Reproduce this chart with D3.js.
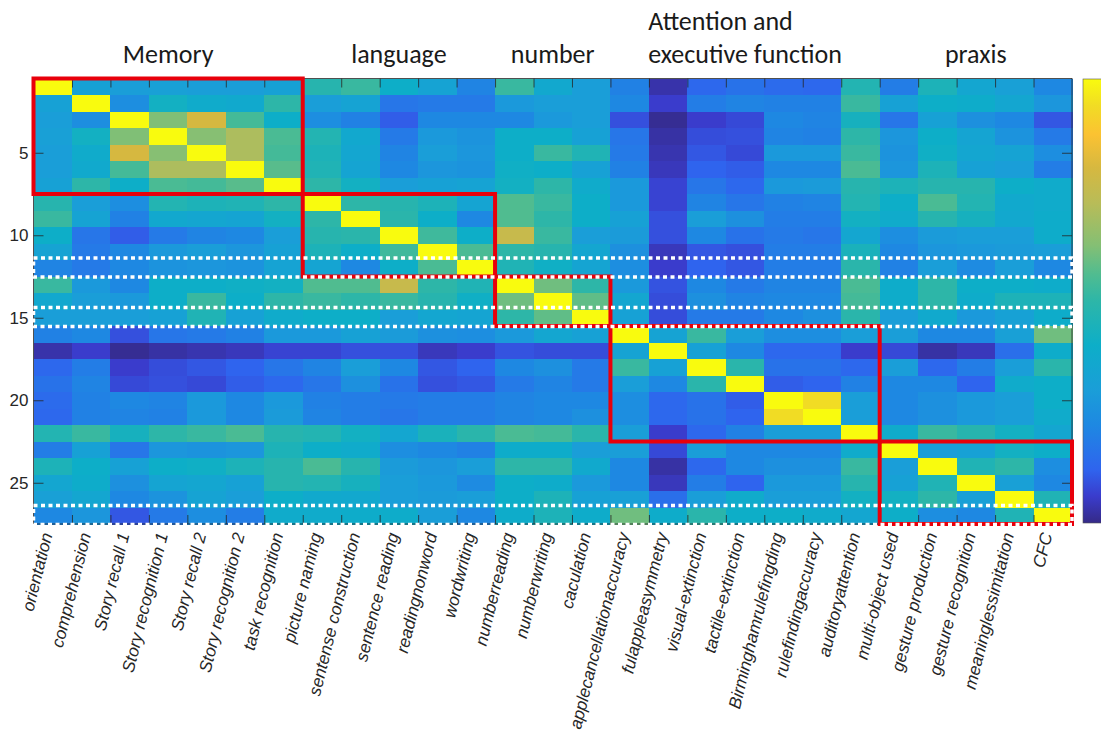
<!DOCTYPE html>
<html>
<head>
<meta charset="utf-8">
<script src="https://cdn.jsdelivr.net/npm/d3@7"></script>
<style>
  body { margin: 0; background: #fff; }
  svg { display: block; }
</style>
</head>
<body>
<script>
// variable names (columns and rows of the correlation matrix)
const variables = ["orientation", "comprehension", "Story recall 1", "Story recognition 1", "Story recall 2",
  "Story recognition 2", "task recognition", "picture naming", "sentense construction", "sentence reading",
  "readingnonword", "wordwriting", "numberreading", "numberwriting", "caculation",
  "applecancellationaccuracy", "fulappleasymmetry", "visual-extinction", "tactile-extinction",
  "Birminghamrulefingding", "rulefindingaccuracy", "auditoryattention", "multi-object used",
  "gesture production", "gesture recognition", "meaninglessimitation", "CFC"];

// cognitive domains (index range of variables, inclusive)
const groups = [
  {name: ["Memory"], from: 0, to: 6},
  {name: ["language"], from: 7, to: 11},
  {name: ["number"], from: 12, to: 14},
  {name: ["Attention and", "executive function"], from: 15, to: 21},
  {name: ["praxis"], from: 22, to: 26}
];

// rows marked with the white dotted frame
const markedRows = [12, 15, 27];
const yTicks = [5, 10, 15, 20, 25];

// lower triangle of the matrix (row i holds columns 0..i-1), diagonal is 1
const lower = [
  [],
  [0.32],
  [0.30, 0.24],
  [0.31, 0.42, 0.62],
  [0.30, 0.38, 0.80, 0.63],
  [0.30, 0.37, 0.54, 0.70, 0.70],
  [0.32, 0.50, 0.40, 0.55, 0.54, 0.57],
  [0.48, 0.30, 0.24, 0.47, 0.45, 0.46, 0.50],
  [0.52, 0.33, 0.20, 0.36, 0.35, 0.34, 0.42, 0.50],
  [0.40, 0.17, 0.11, 0.18, 0.21, 0.22, 0.30, 0.48, 0.49],
  [0.33, 0.18, 0.22, 0.28, 0.30, 0.27, 0.32, 0.45, 0.40, 0.53],
  [0.21, 0.18, 0.22, 0.26, 0.27, 0.26, 0.33, 0.34, 0.22, 0.40, 0.55],
  [0.52, 0.28, 0.22, 0.40, 0.40, 0.41, 0.42, 0.56, 0.56, 0.76, 0.50, 0.46],
  [0.36, 0.30, 0.28, 0.40, 0.52, 0.40, 0.50, 0.52, 0.50, 0.52, 0.48, 0.41, 0.60],
  [0.30, 0.30, 0.30, 0.32, 0.46, 0.32, 0.38, 0.40, 0.40, 0.30, 0.35, 0.34, 0.50, 0.58],
  [0.20, 0.22, 0.09, 0.17, 0.18, 0.20, 0.28, 0.28, 0.32, 0.29, 0.25, 0.24, 0.28, 0.35, 0.32],
  [0.03, 0.06, 0.01, 0.025, 0.035, 0.045, 0.07, 0.07, 0.09, 0.09, 0.045, 0.06, 0.095, 0.085, 0.085, 0.33],
  [0.13, 0.19, 0.06, 0.085, 0.10, 0.12, 0.17, 0.21, 0.30, 0.22, 0.10, 0.12, 0.22, 0.25, 0.18, 0.52, 0.32],
  [0.16, 0.21, 0.08, 0.09, 0.08, 0.11, 0.13, 0.17, 0.25, 0.16, 0.09, 0.10, 0.18, 0.21, 0.18, 0.30, 0.22, 0.49],
  [0.14, 0.20, 0.22, 0.21, 0.28, 0.22, 0.28, 0.20, 0.19, 0.18, 0.19, 0.19, 0.21, 0.22, 0.22, 0.24, 0.13, 0.16, 0.11],
  [0.13, 0.20, 0.21, 0.20, 0.28, 0.22, 0.29, 0.21, 0.19, 0.17, 0.19, 0.19, 0.21, 0.22, 0.25, 0.24, 0.13, 0.16, 0.12, 0.94],
  [0.47, 0.52, 0.43, 0.50, 0.52, 0.55, 0.48, 0.47, 0.42, 0.35, 0.44, 0.49, 0.55, 0.54, 0.49, 0.30, 0.06, 0.13, 0.20, 0.30, 0.30],
  [0.19, 0.32, 0.17, 0.27, 0.26, 0.27, 0.45, 0.40, 0.38, 0.24, 0.22, 0.20, 0.39, 0.39, 0.30, 0.30, 0.08, 0.30, 0.22, 0.22, 0.22, 0.38],
  [0.45, 0.40, 0.32, 0.40, 0.41, 0.45, 0.48, 0.55, 0.48, 0.29, 0.27, 0.30, 0.50, 0.50, 0.37, 0.22, 0.025, 0.13, 0.22, 0.25, 0.25, 0.52, 0.30],
  [0.35, 0.39, 0.25, 0.34, 0.35, 0.32, 0.48, 0.47, 0.43, 0.30, 0.28, 0.23, 0.40, 0.39, 0.28, 0.22, 0.045, 0.19, 0.12, 0.28, 0.28, 0.48, 0.32, 0.46],
  [0.31, 0.35, 0.22, 0.26, 0.33, 0.30, 0.40, 0.37, 0.36, 0.30, 0.29, 0.30, 0.40, 0.45, 0.32, 0.31, 0.15, 0.30, 0.38, 0.30, 0.30, 0.42, 0.42, 0.50, 0.31],
  [0.22, 0.27, 0.10, 0.18, 0.24, 0.19, 0.38, 0.38, 0.39, 0.39, 0.30, 0.22, 0.39, 0.45, 0.39, 0.60, 0.39, 0.49, 0.40, 0.40, 0.38, 0.35, 0.40, 0.24, 0.22, 0.46]
];

// parula-like colour map
const parulaStops = [0, 0.06, 0.12, 0.22, 0.30, 0.40, 0.50, 0.56, 0.625, 0.72, 0.80, 0.875, 0.94, 1];
const parulaColors = ["#352a87", "#3a3ccc", "#2f64ee", "#1e88e2", "#1a9ed8", "#0daec8", "#2db6a8",
  "#50bc90", "#84bf74", "#b8bc58", "#d6b840", "#fbc232", "#f1dc24", "#f9fb0e"];

const W = 1101, H = 740;
const mLeft = 33.5, mRight = 1072, mTop = 78.5, mBottom = 524;
const n = variables.length;

const matrix = d3.range(n).map(i => d3.range(n).map(j =>
  i === j ? 1 : (j < i ? lower[i][j] : lower[j][i])));

const x = d3.scaleBand().domain(d3.range(n)).range([mLeft, mRight]);
const y = d3.scaleBand().domain(d3.range(n)).range([mTop, mBottom]);
const bw = x.bandwidth(), bh = y.bandwidth();
const color = d3.scaleLinear().domain(parulaStops).range(parulaColors).clamp(true);

const svg = d3.select("body").append("svg")
  .attr("width", W)
  .attr("height", H);

// colorbar
const grad = svg.append("defs").append("linearGradient")
  .attr("id", "parula")
  .attr("x1", 0).attr("y1", 1).attr("x2", 0).attr("y2", 0);
grad.selectAll("stop")
  .data(parulaStops)
  .join("stop")
    .attr("offset", d => d)
    .attr("stop-color", (d, i) => parulaColors[i]);

svg.append("rect")
  .attr("x", 1083).attr("y", 79)
  .attr("width", 30).attr("height", 444)
  .attr("fill", "url(#parula)")
  .attr("stroke", "#555").attr("stroke-width", 0.6);

// heatmap cells
svg.append("g")
  .attr("shape-rendering", "crispEdges")
  .selectAll("rect")
  .data(matrix.flatMap((row, i) => row.map((v, j) => ({i, j, v}))))
  .join("rect")
    .attr("x", d => x(d.j))
    .attr("y", d => y(d.i))
    .attr("width", bw + 0.6)
    .attr("height", bh + 0.6)
    .attr("fill", d => color(d.v));

// axes
const xEdge = d3.scaleLinear().domain([0, n]).range([mLeft, mRight]);
const yPos = d3.scaleLinear().domain([0.5, n + 0.5]).range([mTop, mBottom]);
const axisStyle = g => {
  g.select(".domain").remove();
  g.selectAll("line").attr("stroke", "#262626").attr("stroke-width", 0.8);
  g.selectAll("text").attr("fill", "#262626")
    .style("font", "17px 'Liberation Sans', Arial, sans-serif");
};

svg.append("g")
  .attr("transform", `translate(0,${mTop})`)
  .call(d3.axisTop(xEdge).tickValues(d3.range(1, n)).tickSize(-9).tickFormat(""))
  .call(axisStyle);
svg.append("g")
  .attr("transform", `translate(0,${mBottom})`)
  .call(d3.axisBottom(xEdge).tickValues(d3.range(1, n)).tickSize(-9).tickFormat(""))
  .call(axisStyle);
svg.append("g")
  .attr("transform", `translate(${mLeft},0)`)
  .call(d3.axisLeft(yPos).tickValues(yTicks).tickSize(-10).tickPadding(5))
  .call(axisStyle);
svg.append("g")
  .attr("transform", `translate(${mRight},0)`)
  .call(d3.axisRight(yPos).tickValues(yTicks).tickSize(-10).tickFormat(""))
  .call(axisStyle);

svg.append("rect")
  .attr("x", mLeft).attr("y", mTop)
  .attr("width", mRight - mLeft).attr("height", mBottom - mTop)
  .attr("fill", "none")
  .attr("stroke", "#262626").attr("stroke-width", 0.8);

// column labels
svg.append("g")
  .selectAll("text")
  .data(variables)
  .join("text")
    .attr("transform", (d, i) => `translate(${x(i) + bw / 2 - 6},533) rotate(-76)`)
    .attr("text-anchor", "end")
    .attr("dy", "0.35em")
    .attr("fill", "#262626")
    .style("font", "italic 17.2px 'Liberation Sans', Arial, sans-serif")
    .text(d => d);

// domain boxes
svg.append("g")
  .selectAll("rect")
  .data(groups)
  .join("rect")
    .attr("x", d => x(d.from))
    .attr("y", d => y(d.from))
    .attr("width", d => x(d.to) + bw - x(d.from))
    .attr("height", d => y(d.to) + bh - y(d.from))
    .attr("fill", "none")
    .attr("stroke", "#e8000b")
    .attr("stroke-width", 4);

// dotted frames around marked rows
svg.append("g")
  .selectAll("rect")
  .data(markedRows)
  .join("rect")
    .attr("x", mLeft)
    .attr("y", d => y(d - 1) - 2)
    .attr("width", mRight - mLeft)
    .attr("height", bh + 2.5)
    .attr("fill", "none")
    .attr("stroke", "#fff")
    .attr("stroke-width", 3.5)
    .attr("stroke-dasharray", "4 3.5");

// domain titles
const titles = svg.append("g")
  .style("font", "26px Carlito, Calibri, Lato, sans-serif")
  .attr("fill", "#1a1a1a");
groups.forEach(g => {
  const cx = (x(g.from) + x(g.to) + bw) / 2;
  const lines = g.name.map((s, k) => titles.append("text")
    .attr("y", 63 - (g.name.length - 1 - k) * 33)
    .text(s));
  const wMax = d3.max(lines, t => t.node().getComputedTextLength());
  lines.forEach(t => t.attr("x", cx - wMax / 2));
});
</script>
</body>
</html>
